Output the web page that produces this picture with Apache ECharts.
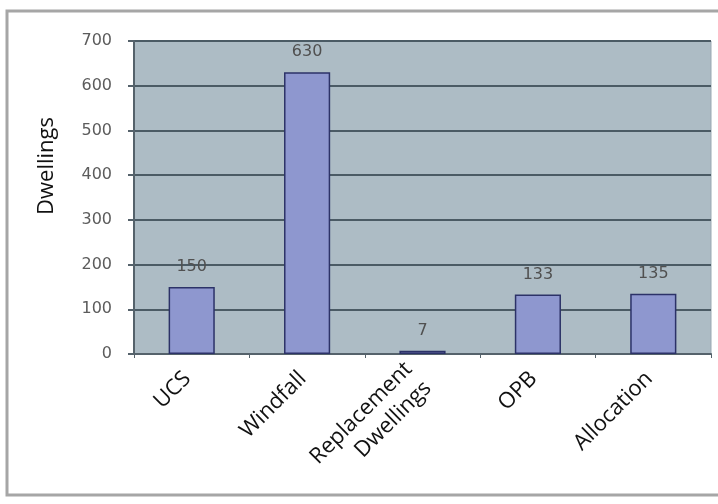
<!DOCTYPE html>
<html>
<head>
<meta charset="utf-8">
<script src="https://cdn.jsdelivr.net/npm/echarts@6/dist/echarts.min.js"></script>
<style>
  html, body { margin: 0; padding: 0; background: #ffffff; }
  #chart { width: 718px; height: 504px; }
  .font-warm { position: absolute; left: -9999px; top: -9999px; }
</style>
</head>
<body>
<div id="chart"></div>
<span class="font-warm" style="font-family:'Open Sans'">Dwellings</span>
<span class="font-warm" style="font-family:'DejaVu Sans'">0123456789</span>
<script>
// Dwelling supply by source
const categories = ['UCS', 'Windfall', 'Replacement\nDwellings', 'OPB', 'Allocation'];
const dwellings = [150, 630, 7, 133, 135];
const yTicks = { min: 0, max: 700, step: 100 };
const yTitle = 'Dwellings';

function draw() {
  const chart = echarts.init(document.getElementById('chart'), null, { renderer: 'canvas' });
  chart.setOption({
    backgroundColor: '#ffffff',
    animation: false,
    graphic: [
      {
        type: 'rect',
        shape: { x: 7, y: 11, width: 730, height: 484 },
        style: { fill: 'none', stroke: '#a6a6a6', lineWidth: 3 },
        silent: true
      },
      {
        type: 'text',
        x: 47,
        y: 166,
        rotation: Math.PI / 2,
        style: {
          text: yTitle,
          fill: '#111111',
          font: '22px "Open Sans", sans-serif',
          textAlign: 'center',
          textVerticalAlign: 'middle'
        }
      }
    ],
    grid: {
      left: 134,
      right: 7,
      top: 41,
      bottom: 150,
      show: true,
      backgroundColor: '#adbcc5',
      borderColor: '#9aa9b2',
      borderWidth: 1
    },
    xAxis: {
      type: 'category',
      data: categories,
      axisLine: { show: true, lineStyle: { color: '#55626b', width: 2 } },
      axisTick: { show: true, length: 4, lineStyle: { color: '#55626b' } },
      axisLabel: {
        rotate: 45,
        interval: 0,
        margin: 17,
        padding: [0, 6, 0, 0],
        color: '#111111',
        fontFamily: '"Open Sans", sans-serif',
        fontSize: 22,
        lineHeight: 27,
        align: 'right'
      }
    },
    yAxis: {
      type: 'value',
      min: yTicks.min,
      max: yTicks.max,
      interval: yTicks.step,
      axisLine: { show: true, lineStyle: { color: '#55626b', width: 2 } },
      axisTick: { show: true, length: 6, lineStyle: { color: '#55626b', width: 2 } },
      axisLabel: {
        margin: 22,
        color: '#5c5c5c',
        fontFamily: '"DejaVu Sans", Verdana, sans-serif',
        fontSize: 16
      },
      splitLine: { show: true, lineStyle: { color: '#4b5b65', width: 2 } }
    },
    series: [
      {
        type: 'bar',
        data: dwellings,
        barWidth: '40%',
        itemStyle: {
          color: '#8e97cf',
          borderColor: '#2c3268',
          borderWidth: 1.5
        },
        label: {
          show: true,
          position: 'top',
          distance: 12,
          color: '#505050',
          fontFamily: '"DejaVu Sans", Verdana, sans-serif',
          fontSize: 16
        }
      }
    ]
  });
}

if (document.fonts && document.fonts.load) {
  Promise.all([
    document.fonts.load('22px "Open Sans"'),
    document.fonts.load('16px "DejaVu Sans"')
  ]).then(draw, draw);
} else {
  draw();
}
</script>
</body>
</html>
